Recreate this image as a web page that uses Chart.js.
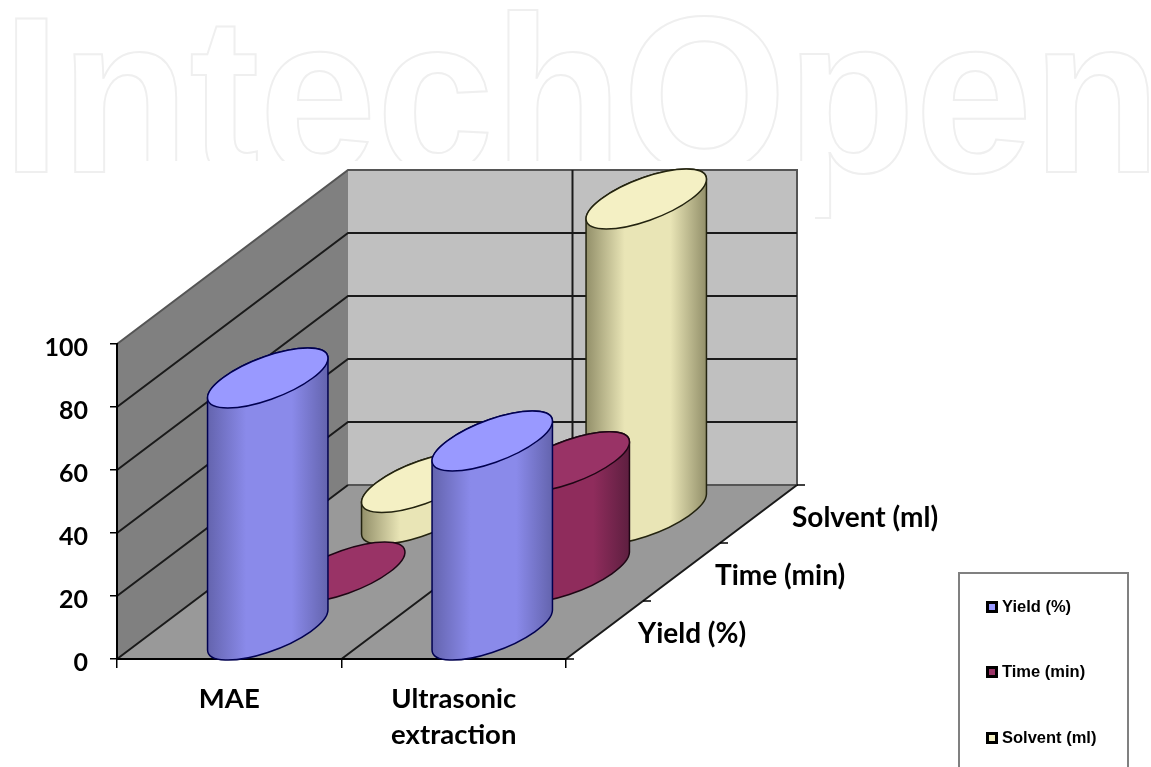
<!DOCTYPE html>
<html>
<head>
<meta charset="utf-8">
<title>Extraction comparison</title>
<script src="https://cdn.jsdelivr.net/npm/chart.js@4"></script>
<style>
    html, body { margin: 0; padding: 0; background: #fff; overflow: hidden; }
    canvas { display: block; }
</style>
</head>
<body>
<canvas id="chart" width="1151" height="767"></canvas>
<script>
// Data
const categories = ['MAE', ['Ultrasonic', 'extraction']];
const seriesNames = ['Yield (%)', 'Time (min)', 'Solvent (ml)'];
const yieldValues = [80, 60];
const timeValues = [0, 35];
const solventValues = [10, 100];
const yTicks = [0, 20, 40, 60, 80, 100];

// top, side edge, side centre, outline
const palette = [
    { top: '#9999ff', edge: '#6464ae', mid: '#8a8aea', line: '#000050' },
    { top: '#993366', edge: '#5e1f40', mid: '#8f2c5c', line: '#1e0614' },
    { top: '#f4f0c4', edge: '#93906a', mid: '#e9e5b6', line: '#23230f' }
];

// one step of the depth axis, in pixels
const depthX = 77;
const depthY = -58;

function ellipseArc(ctx, cx, cy, from, to) {
    ctx.save();
    ctx.transform(45, 0, 40, -30, cx, cy);
    ctx.arc(0, 0, 1, from, to, false);
    ctx.restore();
}

function drawCylinder(ctx, cx, baseY, topY, color) {
    const t0 = Math.atan2(40, 45);
    const halfW = 60;

    if (baseY - topY > 0.5) {
        const gradient = ctx.createLinearGradient(cx - halfW, 0, cx + halfW, 0);
        gradient.addColorStop(0, color.edge);
        gradient.addColorStop(0.32, color.mid);
        gradient.addColorStop(0.7, color.mid);
        gradient.addColorStop(1, color.edge);
        ctx.beginPath();
        ellipseArc(ctx, cx, baseY, t0 + Math.PI, t0 + 2 * Math.PI);
        ellipseArc(ctx, cx, topY, t0, t0 + Math.PI);
        ctx.closePath();
        ctx.fillStyle = gradient;
        ctx.fill();
        ctx.strokeStyle = color.line;
        ctx.lineWidth = 1.5;
        ctx.stroke();
    }

    ctx.beginPath();
    ellipseArc(ctx, cx, topY, 0, 2 * Math.PI);
    ctx.closePath();
    ctx.fillStyle = color.top;
    ctx.fill();
    ctx.strokeStyle = color.line;
    ctx.lineWidth = 1.5;
    ctx.stroke();
}

const scene3d = {
    id: 'scene3d',
    beforeDraw(chart) {
        const { ctx, chartArea: area, scales: { x, y } } = chart;
        const backX = depthX * 3;
        const backY = depthY * 3;
        const left = area.left, right = area.right, top = area.top, bottom = area.bottom;

        ctx.save();

        // Watermark
        ctx.save();
        ctx.scale(0.945, 1);
        ctx.font = 'bold 223px "Liberation Sans"';
        ctx.textBaseline = 'alphabetic';
        ctx.strokeStyle = '#efefef';
        ctx.lineWidth = 2;
        ctx.strokeText('IntechOpen', 2, 172);
        ctx.restore();
        ctx.fillStyle = '#fff';
        ctx.fillRect(125, 161, 690, 340);

        // Left wall
        ctx.fillStyle = '#808080';
        ctx.beginPath();
        ctx.moveTo(left, top);
        ctx.lineTo(left + backX, top + backY);
        ctx.lineTo(left + backX, bottom + backY);
        ctx.lineTo(left, bottom);
        ctx.closePath();
        ctx.fill();

        // Back wall
        ctx.fillStyle = '#c0c0c0';
        ctx.fillRect(left + backX, top + backY, right - left, bottom - top);

        // Floor
        ctx.fillStyle = '#999999';
        ctx.beginPath();
        ctx.moveTo(left, bottom);
        ctx.lineTo(right, bottom);
        ctx.lineTo(right + backX, bottom + backY);
        ctx.lineTo(left + backX, bottom + backY);
        ctx.closePath();
        ctx.fill();

        // Wall outline
        ctx.strokeStyle = '#555555';
        ctx.lineWidth = 2;
        ctx.beginPath();
        ctx.moveTo(left, top);
        ctx.lineTo(left + backX, top + backY);
        ctx.lineTo(right + backX, top + backY);
        ctx.lineTo(right + backX, bottom + backY);
        ctx.lineTo(left + backX, bottom + backY);
        ctx.stroke();

        // Grid lines on both walls
        ctx.strokeStyle = '#1a1a1a';
        ctx.beginPath();
        yTicks.forEach((tick) => {
            if (tick === 0 || tick === 100) return;
            const py = y.getPixelForValue(tick);
            ctx.moveTo(left, py);
            ctx.lineTo(left + backX, py + backY);
            ctx.lineTo(right + backX, py + backY);
        });
        // Category divider, floor then back wall
        const midX = (x.getPixelForValue(0) + x.getPixelForValue(1)) / 2;
        ctx.moveTo(midX, bottom);
        ctx.lineTo(midX + backX, bottom + backY);
        ctx.lineTo(midX + backX, top + backY);
        // Floor edges
        ctx.moveTo(left, bottom);
        ctx.lineTo(left + backX, bottom + backY);
        ctx.moveTo(right, bottom);
        ctx.lineTo(right + backX, bottom + backY);
        ctx.stroke();

        // Depth axis ticks and labels
        ctx.strokeStyle = '#000';
        ctx.lineWidth = 1.5;
        ctx.fillStyle = '#000';
        ctx.font = 'bold 28px Lato';
        ctx.textAlign = 'left';
        ctx.textBaseline = 'middle';
        seriesNames.forEach((name, i) => {
            const tx = right + depthX * i;
            const ty = bottom + depthY * i;
            ctx.beginPath();
            ctx.moveTo(tx, ty);
            ctx.lineTo(tx + 8, ty);
            ctx.stroke();
            ctx.fillText(name, tx + 72, ty - 25);
        });
        const tx = right + backX;
        const ty = bottom + backY;
        ctx.beginPath();
        ctx.moveTo(tx, ty);
        ctx.lineTo(tx + 8, ty);
        ctx.stroke();

        // Legend box
        ctx.strokeStyle = '#808080';
        ctx.lineWidth = 2;
        ctx.beginPath();
        ctx.moveTo(959, 767);
        ctx.lineTo(959, 573);
        ctx.lineTo(1128, 573);
        ctx.lineTo(1128, 767);
        ctx.stroke();

        ctx.font = 'bold 16.5px "Liberation Sans"';
        [607, 672, 738].forEach((ly, i) => {
            ctx.fillStyle = '#000';
            ctx.fillRect(986, ly - 6, 12, 12);
            ctx.fillStyle = palette[i].top;
            ctx.fillRect(989, ly - 3, 6, 6);
            ctx.fillStyle = '#000';
            ctx.fillText(seriesNames[i], 1002, ly);
        });

        ctx.restore();
    },
    beforeDatasetsDraw(chart) {
        const { ctx, scales: { x, y } } = chart;
        const baseline = y.getPixelForValue(0);

        ctx.save();
        // furthest series first so the nearer cylinders cover it
        for (let s = chart.data.datasets.length - 1; s >= 0; s--) {
            chart.data.datasets[s].data.forEach((value, c) => {
                const cx = x.getPixelForValue(c) + depthX * (s + 0.5);
                const shift = depthY * (s + 0.5);
                drawCylinder(ctx, cx, baseline + shift, y.getPixelForValue(value) + shift, palette[s]);
            });
        }
        ctx.restore();
        return false;
    }
};

const chart = new Chart(document.getElementById('chart').getContext('2d'), {
    type: 'bar',
    data: {
        labels: categories,
        datasets: [
            { label: seriesNames[0], data: yieldValues, backgroundColor: palette[0].top },
            { label: seriesNames[1], data: timeValues, backgroundColor: palette[1].top },
            { label: seriesNames[2], data: solventValues, backgroundColor: palette[2].top }
        ]
    },
    plugins: [scene3d],
    options: {
        responsive: false,
        animation: false,
        layout: { padding: { top: 344, right: 585, bottom: 0, left: 0 } },
        scales: {
            x: {
                afterFit(scale) { scale.height = 108; },
                grid: { drawOnChartArea: false, tickLength: 9, color: '#000', lineWidth: 1.5 },
                border: { color: '#000', width: 2 },
                ticks: {
                    color: '#000',
                    maxRotation: 0,
                    font: { family: 'Lato', weight: 'bold', size: 27.5, lineHeight: 1.31 },
                    padding: 13
                }
            },
            y: {
                min: 0,
                max: 100,
                afterFit(scale) { scale.width = 117; },
                afterBuildTicks(scale) { scale.ticks = yTicks.map((value) => ({ value })); },
                grid: { drawOnChartArea: false, tickLength: 7, color: '#000', lineWidth: 1.5 },
                border: { color: '#000', width: 2 },
                ticks: {
                    color: '#000',
                    font: { family: 'Lato', weight: 'bold', size: 25 },
                    padding: 22,
                    labelOffset: 4
                }
            }
        },
        plugins: {
            legend: { display: false },
            tooltip: { enabled: false }
        }
    }
});
</script>
</body>
</html>
